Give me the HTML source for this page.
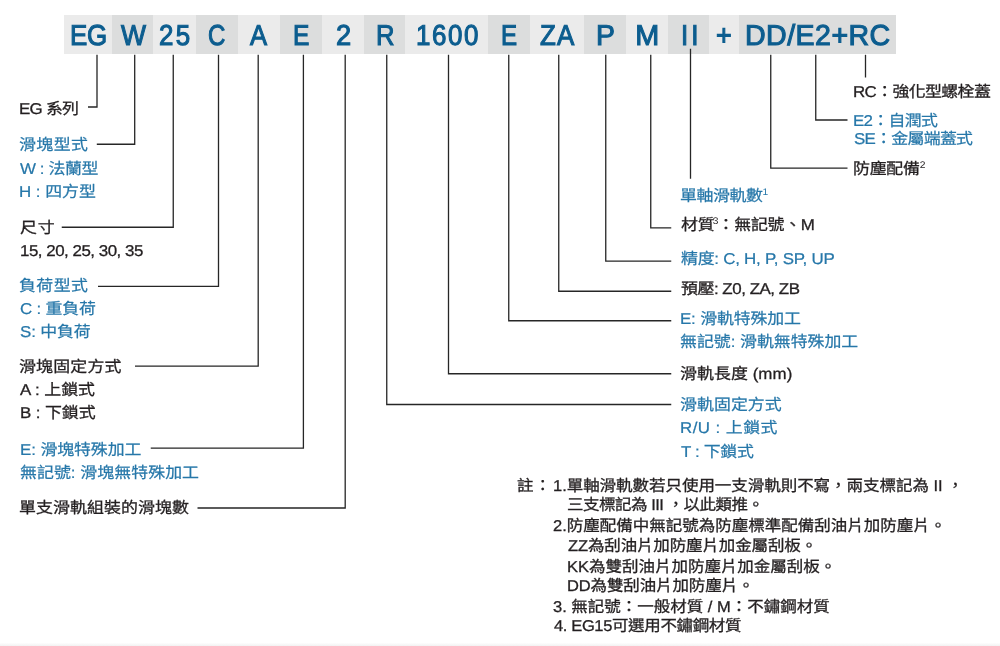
<!DOCTYPE html>
<html lang="zh-TW">
<head>
<meta charset="utf-8">
<title>EG series model number</title>
<style>
html,body{margin:0;padding:0;background:#fff}
#c{position:relative;width:1000px;height:646px;overflow:hidden;background:#fff;font-family:"Liberation Sans",sans-serif;text-rendering:geometricPrecision;filter:blur(0.55px)}
.cell{position:absolute;top:15.2px;height:38.6px}
.h,.t{position:absolute;white-space:nowrap;line-height:1;margin:0;transform-origin:0 0}
.h{color:#0c5d8f;font-size:28.8px;-webkit-text-stroke:1.1px #0c5d8f}
.k{color:#231f20;-webkit-text-stroke:0.3px #231f20}
.b{color:#2677a9;-webkit-text-stroke:0.22px #2677a9}
.s{position:relative;top:-6.2px;font-size:9.5px;letter-spacing:0;-webkit-text-stroke-width:0}
svg{position:absolute;left:0;top:0}
#foot{position:absolute;left:0;top:643px;width:1000px;height:3px;background:linear-gradient(#fdfdfd,#f2f2f2)}
</style>
</head>
<body>
<div id="c">
<div class="cell" style="left:64px;width:831.8px;background:#ebebeb"></div>
<div class="cell" style="left:112px;width:41.4px;background:#dcdddd"></div>
<div class="cell" style="left:195.5px;width:42.0px;background:#dcdddd"></div>
<div class="cell" style="left:279.6px;width:42.0px;background:#dcdddd"></div>
<div class="cell" style="left:363.6px;width:41.9px;background:#dcdddd"></div>
<div class="cell" style="left:488px;width:41.5px;background:#dcdddd"></div>
<div class="cell" style="left:584px;width:41.8px;background:#dcdddd"></div>
<div class="cell" style="left:668px;width:41.2px;background:#dcdddd"></div>
<div class="cell" style="left:738.8px;width:157.0px;background:#dcdddd"></div>
<svg width="1000" height="646" viewBox="0 0 1000 646" fill="none" stroke="#262626" stroke-width="1.3">
<path d="M97 54.8 L97 107 L88 107"/>
<path d="M134.7 54.8 L134.7 144.25 L96.8 144.25"/>
<path d="M173.25 54.8 L173.25 227.25 L61.75 227.25"/>
<path d="M218.5 54.8 L218.5 286.3 L98 286.3"/>
<path d="M258.2 54.8 L258.2 366.2 L135 366.2"/>
<path d="M303.4 54.8 L303.4 448.1 L150.75 448.1"/>
<path d="M345.2 54.8 L345.2 508 L197.5 508"/>
<path d="M386.75 54.8 L386.75 404.5 L671.25 404.5"/>
<path d="M448.5 54.8 L448.5 373.75 L671.25 373.75"/>
<path d="M508.75 54.8 L508.75 320.75 L671.25 320.75"/>
<path d="M558.75 54.8 L558.75 291.25 L671.25 291.25"/>
<path d="M605.75 54.8 L605.75 261.2 L671.25 261.2"/>
<path d="M650.75 54.8 L650.75 227.9 L671.25 227.9"/>
<path d="M690.5 48.75 L690.5 178.75"/>
<path d="M770.75 54.8 L770.75 168.2 L847.5 168.2"/>
<path d="M815.75 54.8 L815.75 120 L847.5 120"/>
<path d="M865.5 54.8 L865.5 77.5"/>
</svg>
<div class="h" style="left:69.67px;top:21.85px;letter-spacing:-0.194px;transform:scaleX(0.9000)">EG</div>
<div class="h" style="left:120.66px;top:21.85px;letter-spacing:0.000px;transform:scaleX(0.9204)">W</div>
<div class="h" style="left:159.32px;top:21.85px;letter-spacing:2.583px;transform:scaleX(0.9000)">25</div>
<div class="h" style="left:208.12px;top:21.85px;letter-spacing:0.000px;transform:scaleX(0.8333)">C</div>
<div class="h" style="left:250.44px;top:21.85px;letter-spacing:0.000px;transform:scaleX(0.8889)">A</div>
<div class="h" style="left:292.76px;top:21.85px;letter-spacing:0.000px;transform:scaleX(0.8529)">E</div>
<div class="h" style="left:335.54px;top:21.85px;letter-spacing:0.000px;transform:scaleX(0.9483)">2</div>
<div class="h" style="left:375.94px;top:21.85px;letter-spacing:0.000px;transform:scaleX(0.8904)">R</div>
<div class="h" style="left:416.15px;top:21.85px;letter-spacing:1.741px;transform:scaleX(0.9000)">1600</div>
<div class="h" style="left:501.03px;top:21.85px;letter-spacing:0.000px;transform:scaleX(0.8382)">E</div>
<div class="h" style="left:539.77px;top:21.85px;letter-spacing:1.333px;transform:scaleX(0.9000)">ZA</div>
<div class="h" style="left:595.78px;top:21.85px;letter-spacing:0.000px;transform:scaleX(0.9848)">P</div>
<div class="h" style="left:635.25px;top:21.85px;letter-spacing:0.000px;transform:scaleX(1.0000)">M</div>
<div class="h" style="left:680.70px;top:21.85px;letter-spacing:3.278px;transform:scaleX(0.9000)">II</div>
<div class="h" style="left:716.30px;top:21.85px;letter-spacing:0.000px;transform:scaleX(0.9344)">+</div>
<div class="h" style="left:744.52px;top:21.85px;letter-spacing:0.492px;transform:scaleX(0.9900)">DD/E2+RC</div>
<div class="t k" style="left:19.25px;top:101.60px;font-size:15.7px;letter-spacing:-0.696px;transform:scaleX(1.0780)">EG 系列</div>
<div class="t b" style="left:19.25px;top:137.90px;font-size:15.7px;letter-spacing:0.387px;transform:scaleX(1.0780)">滑塊型式</div>
<div class="t b" style="left:20.25px;top:161.75px;font-size:15.7px;letter-spacing:-0.387px;transform:scaleX(1.0780)">W : 法蘭型</div>
<div class="t b" style="left:19.25px;top:184.50px;font-size:15.7px;letter-spacing:-0.039px;transform:scaleX(1.0780)">H : 四方型</div>
<div class="t k" style="left:19.50px;top:221.00px;font-size:15.7px;letter-spacing:0.696px;transform:scaleX(1.0780)">尺寸</div>
<div class="t k" style="left:19.80px;top:244.10px;font-size:15.7px;letter-spacing:-0.453px;transform:scaleX(1.0780)">15, 20, 25, 30, 35</div>
<div class="t b" style="left:19.25px;top:278.75px;font-size:15.7px;letter-spacing:0.387px;transform:scaleX(1.0780)">負荷型式</div>
<div class="t b" style="left:19.75px;top:301.75px;font-size:15.7px;letter-spacing:-0.193px;transform:scaleX(1.0780)">C : 重負荷</div>
<div class="t b" style="left:19.50px;top:324.50px;font-size:15.7px;letter-spacing:-0.139px;transform:scaleX(1.0780)">S: 中負荷</div>
<div class="t k" style="left:19.25px;top:359.50px;font-size:15.7px;letter-spacing:0.186px;transform:scaleX(1.0780)">滑塊固定方式</div>
<div class="t k" style="left:20.25px;top:383.00px;font-size:15.7px;letter-spacing:-0.039px;transform:scaleX(1.0780)">A : 上鎖式</div>
<div class="t k" style="left:20.00px;top:405.60px;font-size:15.7px;letter-spacing:-0.077px;transform:scaleX(1.0780)">B : 下鎖式</div>
<div class="t b" style="left:20.00px;top:443.10px;font-size:15.7px;letter-spacing:-0.087px;transform:scaleX(1.0780)">E: 滑塊特殊加工</div>
<div class="t b" style="left:19.50px;top:465.60px;font-size:15.7px;letter-spacing:0.042px;transform:scaleX(1.0780)">無記號: 滑塊無特殊加工</div>
<div class="t k" style="left:19.25px;top:501.00px;font-size:15.7px;letter-spacing:0.082px;transform:scaleX(1.0780)">單支滑軌組裝的滑塊數</div>
<div class="t k" style="left:853.25px;top:84.90px;font-size:15.7px;letter-spacing:-0.580px;transform:scaleX(1.0780)">RC：強化型螺栓蓋</div>
<div class="t b" style="left:853.25px;top:113.75px;font-size:15.7px;letter-spacing:-0.649px;transform:scaleX(1.0780)">E2：自潤式</div>
<div class="t b" style="left:853.50px;top:132.40px;font-size:15.7px;letter-spacing:-0.663px;transform:scaleX(1.0780)">SE：金屬端蓋式</div>
<div class="t k" style="left:853.25px;top:162.40px;font-size:15.7px;letter-spacing:-0.232px;transform:scaleX(1.0780)">防塵配備<span class="s">2</span></div>
<div class="t b" style="left:680.00px;top:188.75px;font-size:15.7px;letter-spacing:-0.362px;transform:scaleX(1.0780)">單軸滑軌數<span class="s">1</span></div>
<div class="t k" style="left:680.50px;top:218.40px;font-size:15.7px;letter-spacing:-0.232px;transform:scaleX(1.0780)">材質<span class="s" style="margin:0 -0.8px 0 -1.5px">3</span>：無記號、M</div>
<div class="t b" style="left:680.75px;top:251.90px;font-size:15.7px;letter-spacing:-0.232px;transform:scaleX(1.0780)">精度: C, H, P, SP, UP</div>
<div class="t k" style="left:680.50px;top:282.20px;font-size:15.7px;letter-spacing:-0.428px;transform:scaleX(1.0780)">預壓: Z0, ZA, ZB</div>
<div class="t b" style="left:680.00px;top:312.20px;font-size:15.7px;letter-spacing:-0.145px;transform:scaleX(1.0780)">E: 滑軌特殊加工</div>
<div class="t b" style="left:680.25px;top:335.00px;font-size:15.7px;letter-spacing:-0.021px;transform:scaleX(1.0780)">無記號: 滑軌無特殊加工</div>
<div class="t k" style="left:680.00px;top:367.40px;font-size:15.7px;letter-spacing:0.058px;transform:scaleX(1.0780)">滑軌長度 (mm)</div>
<div class="t b" style="left:680.00px;top:398.00px;font-size:15.7px;letter-spacing:0.046px;transform:scaleX(1.0780)">滑軌固定方式</div>
<div class="t b" style="left:680.00px;top:421.25px;font-size:15.7px;letter-spacing:0.406px;transform:scaleX(1.0780)">R/U : 上鎖式</div>
<div class="t b" style="left:680.75px;top:444.80px;font-size:15.7px;letter-spacing:-0.309px;transform:scaleX(1.0780)">T : 下鎖式</div>
<div class="t k" style="left:516.90px;top:478.80px;font-size:15.7px;letter-spacing:0.856px;transform:scaleX(1.0520)">註：</div>
<div class="t k" style="left:552.95px;top:478.80px;font-size:15.7px;letter-spacing:-0.039px;transform:scaleX(1.0520)">1.單軸滑軌數若只使用一支滑軌則不寫，兩支標記為 II ，</div>
<div class="t k" style="left:566.65px;top:498.00px;font-size:15.7px;letter-spacing:-0.469px;transform:scaleX(1.0520)">三支標記為 III ，以此類推。</div>
<div class="t k" style="left:553.45px;top:519.30px;font-size:15.7px;letter-spacing:-0.008px;transform:scaleX(1.0520)">2.防塵配備中無記號為防塵標準配備刮油片加防塵片。</div>
<div class="t k" style="left:567.50px;top:539.30px;font-size:15.7px;letter-spacing:-0.127px;transform:scaleX(1.0520)">ZZ為刮油片加防塵片加金屬刮板。</div>
<div class="t k" style="left:566.75px;top:559.90px;font-size:15.7px;letter-spacing:-0.015px;transform:scaleX(1.0520)">KK為雙刮油片加防塵片加金屬刮板。</div>
<div class="t k" style="left:566.75px;top:579.00px;font-size:15.7px;letter-spacing:-0.130px;transform:scaleX(1.0520)">DD為雙刮油片加防塵片。</div>
<div class="t k" style="left:553.45px;top:600.30px;font-size:15.7px;letter-spacing:-0.010px;transform:scaleX(1.0520)">3. 無記號：一般材質 / M：不鏽鋼材質</div>
<div class="t k" style="left:553.95px;top:619.40px;font-size:15.7px;letter-spacing:-0.350px;transform:scaleX(1.0520)">4. EG15可選用不鏽鋼材質</div>
<div id="foot"></div>
</div>
</body>
</html>
